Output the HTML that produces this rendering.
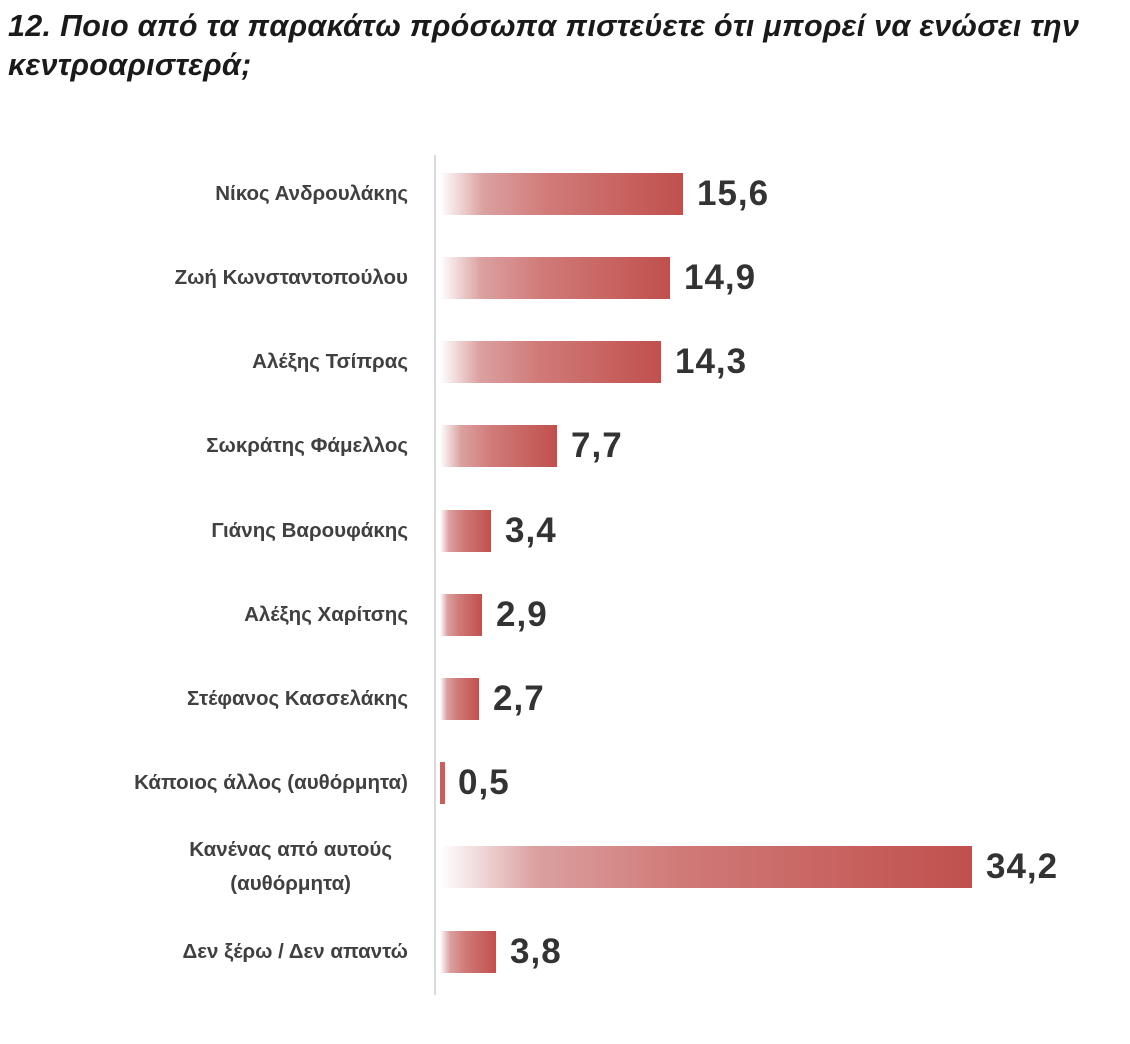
<!DOCTYPE html>
<html><head><meta charset="utf-8"><style>
body{margin:0;width:1130px;height:1044px;background:#fff;position:relative;font-family:"Liberation Sans","DejaVu Sans",sans-serif;overflow:hidden}
.t{position:absolute;left:8px;top:7px;font-size:30.5px;font-style:italic;font-weight:bold;color:#1a1a1a;line-height:39px;white-space:nowrap;letter-spacing:0.3px}
.ax{position:absolute;left:434px;top:155px;width:2px;height:840px;background:#d9d9d9}
.r{position:absolute;left:0;width:1130px;height:42px}
.l{position:absolute;right:722px;top:0;height:42px;display:flex;align-items:center;justify-content:flex-end;text-align:center;font-size:20.5px;font-weight:bold;color:#404040;white-space:nowrap;line-height:34px}
.b{position:absolute;left:440px;top:0;height:42px;background:linear-gradient(to right,#fff 0%,#dba0a0 18%,#d07a78 45%,#c0504d 100%)}
.v{position:absolute;top:0;height:42px;line-height:42px;font-size:35px;font-weight:bold;color:#333;letter-spacing:1px}
</style></head><body>
<div class="t">12. Ποιο από τα παρακάτω πρόσωπα πιστεύετε ότι μπορεί να ενώσει την<br>κεντροαριστερά;</div>
<div class="ax"></div>
<div class="r" style="top:173px"><div class="l">Νίκος Ανδρουλάκης</div><div class="b" style="width:243px"></div><div class="v" style="left:697px">15,6</div></div>
<div class="r" style="top:257px"><div class="l">Ζωή Κωνσταντοπούλου</div><div class="b" style="width:230px"></div><div class="v" style="left:684px">14,9</div></div>
<div class="r" style="top:341px"><div class="l">Αλέξης Τσίπρας</div><div class="b" style="width:221px"></div><div class="v" style="left:675px">14,3</div></div>
<div class="r" style="top:425px"><div class="l">Σωκράτης Φάμελλος</div><div class="b" style="width:117px"></div><div class="v" style="left:571px">7,7</div></div>
<div class="r" style="top:510px"><div class="l">Γιάνης Βαρουφάκης</div><div class="b" style="width:51px"></div><div class="v" style="left:505px">3,4</div></div>
<div class="r" style="top:594px"><div class="l">Αλέξης Χαρίτσης</div><div class="b" style="width:42px"></div><div class="v" style="left:496px">2,9</div></div>
<div class="r" style="top:678px"><div class="l">Στέφανος Κασσελάκης</div><div class="b" style="width:39px"></div><div class="v" style="left:493px">2,7</div></div>
<div class="r" style="top:762px"><div class="l">Κάποιος άλλος (αυθόρμητα)</div><div class="b" style="width:5px;background:#c95f5c"></div><div class="v" style="left:458px">0,5</div></div>
<div class="r" style="top:846px"><div class="l" style="right:738px;top:-12px;height:66px">Κανένας από αυτούς<br>(αυθόρμητα)</div><div class="b" style="width:532px"></div><div class="v" style="left:986px">34,2</div></div>
<div class="r" style="top:931px"><div class="l">Δεν ξέρω / Δεν απαντώ</div><div class="b" style="width:56px"></div><div class="v" style="left:510px">3,8</div></div>
</body></html>
